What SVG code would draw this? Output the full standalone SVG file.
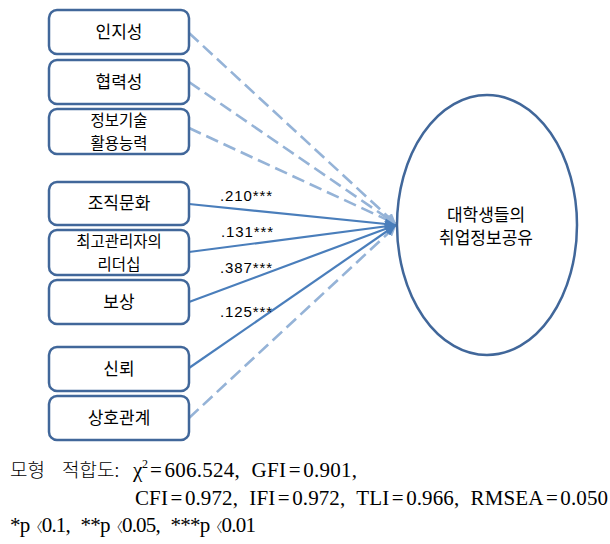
<svg xmlns="http://www.w3.org/2000/svg" width="610" height="544" viewBox="0 0 610 544">
<style>
.box{fill:#fff;stroke:#41679A;stroke-width:2.5}
.bt{font-family:"Noto Sans CJK KR","Noto Sans",sans-serif;font-size:17px;fill:#000;text-anchor:middle}
.bt2{font-size:15.5px}
.solid{stroke:#4A7EBB;stroke-width:2.2;fill:none}
.dash{stroke:#95B3D7;stroke-width:2.6;fill:none;stroke-dasharray:13 6}
.lbl{font-family:"Liberation Sans",Arial,sans-serif;font-size:15px;fill:#000}
.ft{font-family:"Liberation Serif","Noto Sans CJK KR",serif;font-size:21px;fill:#000}
.kr{font-family:"Noto Sans CJK KR",sans-serif;font-size:19px;font-weight:300;fill:#000}
.br{font-family:"Noto Sans CJK KR",sans-serif;font-size:13px;font-weight:300}
</style>
<defs>
<marker id="ah" viewBox="0 0 10 10" refX="10" refY="5" markerWidth="5" markerHeight="5" orient="auto" markerUnits="strokeWidth">
<path d="M0,0 L10,5 L0,10 z" fill="#4A7EBB"/>
</marker>
<marker id="ahl" viewBox="0 0 10 10" refX="10" refY="5" markerWidth="4" markerHeight="4" orient="auto" markerUnits="strokeWidth">
<path d="M0,0 L10,5 L0,10 z" fill="#95B3D7"/>
</marker>
</defs>
<g id="connectors">
<line class="dash" x1="189" y1="33" x2="396" y2="224" marker-end="url(#ahl)"/>
<line class="dash" x1="189" y1="82" x2="396" y2="224" marker-end="url(#ahl)"/>
<line class="dash" x1="189" y1="128" x2="396" y2="224" marker-end="url(#ahl)"/>
<line class="dash" x1="189" y1="418" x2="396" y2="226" marker-end="url(#ahl)"/>
<line class="solid" x1="189" y1="204" x2="396" y2="225" marker-end="url(#ah)"/>
<line class="solid" x1="189" y1="252" x2="396" y2="225" marker-end="url(#ah)"/>
<line class="solid" x1="189" y1="302" x2="396" y2="225" marker-end="url(#ah)"/>
<line class="solid" x1="189" y1="368" x2="396" y2="225" marker-end="url(#ah)"/>
<text class="lbl" x="220" y="201" textLength="52">.210***</text>
<text class="lbl" x="221" y="237" textLength="52">.131***</text>
<text class="lbl" x="220" y="273" textLength="52">.387***</text>
<text class="lbl" x="220" y="317" textLength="52">.125***</text>
</g>
<g id="n1"><rect class="box" x="49" y="10" width="140" height="44" rx="8"/><text class="bt" x="119" y="38">인지성</text></g>
<g id="n2"><rect class="box" x="49" y="60" width="140" height="44" rx="8"/><text class="bt" x="119" y="88">협력성</text></g>
<g id="n3"><rect class="box" x="49" y="109" width="140" height="45" rx="8"/><text class="bt bt2" x="119" y="126">정보기술<tspan x="119" dy="22.5">활용능력</tspan></text></g>
<g id="n4"><rect class="box" x="49" y="182" width="140" height="43" rx="8"/><text class="bt" x="119" y="209">조직문화</text></g>
<g id="n5"><rect class="box" x="49" y="230" width="140" height="45" rx="8"/><text class="bt bt2" x="119" y="247">최고관리자의<tspan x="119" dy="22.5">리더십</tspan></text></g>
<g id="n6"><rect class="box" x="49" y="280" width="140" height="44" rx="8"/><text class="bt" x="119" y="308">보상</text></g>
<g id="n7"><rect class="box" x="49" y="347" width="140" height="44" rx="8"/><text class="bt" x="119" y="375">신뢰</text></g>
<g id="n8"><rect class="box" x="49" y="396" width="140" height="44" rx="8"/><text class="bt" x="119" y="424">상호관계</text></g>
<g id="target"><ellipse cx="487" cy="225" rx="90" ry="130" fill="#fff" stroke="#41679A" stroke-width="2.5"/><text class="bt" x="486" y="221">대학생들의<tspan x="486" dy="23">취업정보공유</tspan></text></g>
<g id="notes">
<text class="kr" x="10" y="477">모형<tspan x="62">적합도:</tspan></text>
<text class="ft" x="133" y="477">χ</text>
<text class="ft" x="142" y="468" style="font-size:12px">2</text>
<text class="ft" x="150" y="477" textLength="207">=<tspan dx="2.5">606.524,</tspan><tspan dx="6"> GFI</tspan><tspan dx="2.5">=</tspan><tspan dx="2.5">0.901,</tspan></text>
<text class="ft" x="135" y="505" textLength="473">CFI<tspan dx="2.5">=</tspan><tspan dx="2.5">0.972,</tspan><tspan dx="6"> IFI</tspan><tspan dx="2.5">=</tspan><tspan dx="2.5">0.972,</tspan><tspan dx="6"> TLI</tspan><tspan dx="2.5">=</tspan><tspan dx="2.5">0.966,</tspan><tspan dx="6"> RMSEA</tspan><tspan dx="2.5">=</tspan><tspan dx="2.5">0.050</tspan></text>
<text class="ft" x="10" y="532" textLength="246">*p<tspan class="br">〈</tspan>0.1,<tspan dx="6"> **p</tspan><tspan class="br">〈</tspan>0.05,<tspan dx="6"> ***p</tspan><tspan class="br">〈</tspan>0.01</text>
</g>
</svg>
